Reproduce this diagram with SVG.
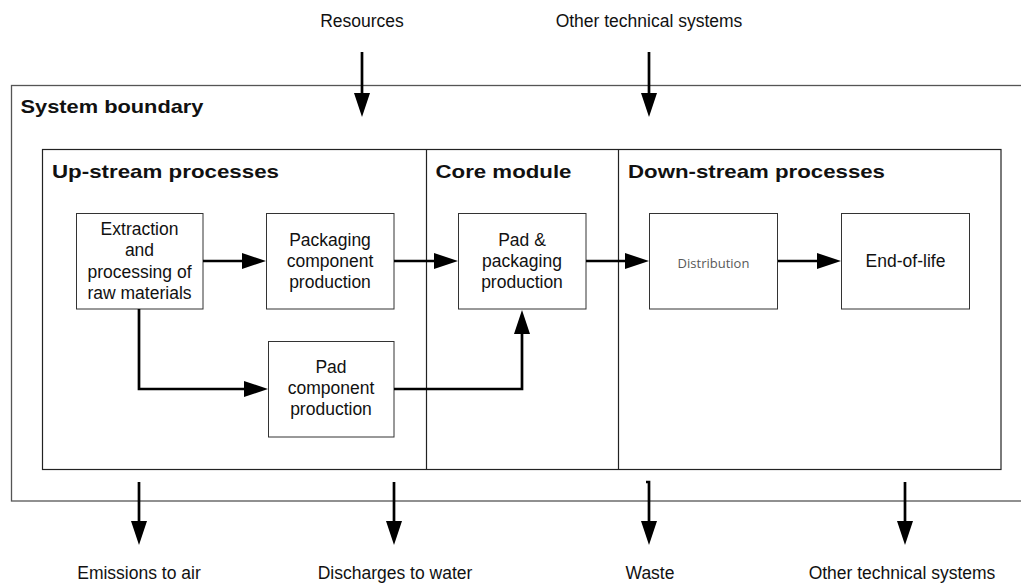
<svg xmlns="http://www.w3.org/2000/svg" width="1021" height="584" viewBox="0 0 1021 584">
<style>
.t{font-family:"Liberation Sans",Arial,sans-serif;font-size:17.5px;fill:#111;text-anchor:middle}
.h{font-family:"Liberation Sans",Arial,sans-serif;font-size:18.5px;font-weight:bold;fill:#111}
.d{font-family:"Open Sans","Noto Sans",sans-serif;font-size:13px;fill:#595959;text-anchor:middle}
.box{fill:#fff;stroke:#333;stroke-width:1}
.frame{fill:none;stroke:#222;stroke-width:1.2}
.c{fill:none;stroke:#000;stroke-width:2.7;marker-end:url(#ah)}
</style>
<defs>
<marker id="ah" markerUnits="userSpaceOnUse" markerWidth="24" markerHeight="16" refX="0" refY="8" orient="auto">
<path d="M0,0 L24,8 L0,16 z" fill="#000"/>
</marker>
</defs>
<rect width="1021" height="584" fill="#fff"/>
<g id="system-boundary">
<rect x="11.5" y="85.5" width="1020" height="415.5" fill="none" stroke="#555" stroke-width="1.3"/>
<text class="h" x="20.5" y="113" textLength="183" lengthAdjust="spacingAndGlyphs">System boundary</text>
</g>
<g id="frame">
<rect class="frame" x="42.5" y="149.5" width="958.5" height="320"/>
<line class="frame" x1="426.5" y1="149.5" x2="426.5" y2="469.5"/>
<line class="frame" x1="618.5" y1="149.5" x2="618.5" y2="469.5"/>
</g>
<g id="upstream"><text class="h" x="52" y="178" textLength="227" lengthAdjust="spacingAndGlyphs">Up-stream processes</text></g>
<g id="core"><text class="h" x="435.5" y="177.5" textLength="136" lengthAdjust="spacingAndGlyphs">Core module</text></g>
<g id="downstream"><text class="h" x="628" y="177.5" textLength="257" lengthAdjust="spacingAndGlyphs">Down-stream processes</text></g>
<g id="extraction">
<rect class="box" x="76.5" y="213.5" width="126.5" height="95.5"/>
<text class="t" x="139.5" y="234.5">Extraction</text>
<text class="t" x="139.5" y="256">and</text>
<text class="t" x="139.5" y="277.5">processing of</text>
<text class="t" x="139.5" y="299">raw materials</text>
</g>
<g id="packaging-component">
<rect class="box" x="266.5" y="213.5" width="127.5" height="95.5"/>
<text class="t" x="330" y="246">Packaging</text>
<text class="t" x="330" y="267">component</text>
<text class="t" x="330" y="288">production</text>
</g>
<g id="pad-component">
<rect class="box" x="268.5" y="341.5" width="125.5" height="95.5"/>
<text class="t" x="331" y="373">Pad</text>
<text class="t" x="331" y="394">component</text>
<text class="t" x="331" y="415">production</text>
</g>
<g id="pad-packaging">
<rect class="box" x="458.5" y="213.5" width="127.5" height="95.5"/>
<text class="t" x="522" y="246">Pad &amp;</text>
<text class="t" x="522" y="267">packaging</text>
<text class="t" x="522" y="288">production</text>
</g>
<g id="distribution">
<rect class="box" x="649.5" y="213.5" width="128" height="95.5"/>
<text class="d" x="713.5" y="268">Distribution</text>
</g>
<g id="end-of-life">
<rect class="box" x="841.5" y="213.5" width="128" height="95.5"/>
<text class="t" x="905.5" y="267">End-of-life</text>
</g>
<g id="labels">
<text class="t" x="362" y="27">Resources</text>
<text class="t" x="649" y="27">Other technical systems</text>
<text class="t" x="139" y="579">Emissions to air</text>
<text class="t" x="395" y="579">Discharges to water</text>
<text class="t" x="650" y="579">Waste</text>
<text class="t" x="902" y="579">Other technical systems</text>
</g>
<g id="connectors">
<path class="c" d="M203,261 H242"/>
<path class="c" d="M394,261 H434"/>
<path class="c" d="M586,261 H625"/>
<path class="c" d="M778,261 H817"/>
<path class="c" d="M139,309 V389 H244"/>
<path class="c" d="M394,389 H522 V334"/>
<path class="c" d="M362,52 V93"/>
<path class="c" d="M649,52 V93"/>
<path class="c" d="M139,482 V521"/>
<path class="c" d="M394,482 V521"/>
<path class="c" d="M646,482 H649 V521"/>
<path class="c" d="M905,482 V521"/>
</g>
</svg>
